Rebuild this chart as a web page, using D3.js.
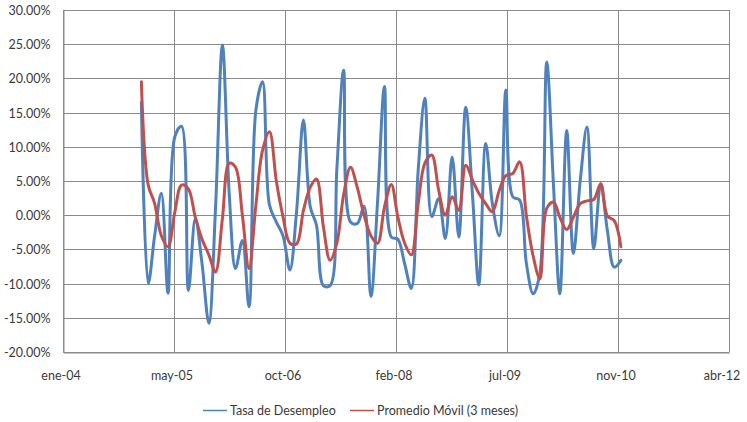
<!DOCTYPE html>
<html>
<head>
<meta charset="utf-8">
<script src="https://cdn.jsdelivr.net/npm/d3@7"></script>
<style>
  html, body { margin: 0; padding: 0; background: #fff; }
  svg { display: block; font-family: Lato, "Open Sans", sans-serif; }
</style>
</head>
<body>
<svg id="chart" width="747" height="422"></svg>
<script>
// Monthly observations, Jan 2005 – Dec 2010
const months = [
  "2005-01","2005-02","2005-03","2005-04","2005-05","2005-06","2005-07","2005-08","2005-09","2005-10","2005-11","2005-12",
  "2006-01","2006-02","2006-03","2006-04","2006-05","2006-06","2006-07","2006-08","2006-09","2006-10","2006-11","2006-12",
  "2007-01","2007-02","2007-03","2007-04","2007-05","2007-06","2007-07","2007-08","2007-09","2007-10","2007-11","2007-12",
  "2008-01","2008-02","2008-03","2008-04","2008-05","2008-06","2008-07","2008-08","2008-09","2008-10","2008-11","2008-12",
  "2009-01","2009-02","2009-03","2009-04","2009-05","2009-06","2009-07","2009-08","2009-09","2009-10","2009-11","2009-12",
  "2010-01","2010-02","2010-03","2010-04","2010-05","2010-06","2010-07","2010-08","2010-09","2010-10","2010-11","2010-12"
];

// Tasa de Desempleo (variación, %)
const tasaDesempleo = [
  16.5, -10.0, -3.2, 3.2, -11.4, 11.5, 13.0, -11.0, -0.5, -7.0, -15.8, 1.0,
  24.9, 3.0, -7.8, -3.7, -13.4, 15.4, 19.5, 1.5, -1.0, -3.0, -8.0, 0.5,
  13.9, 1.2, -1.5, -10.3, -10.3, 7.0, 21.2, -1.0, -1.2, 1.3, -11.9, 2.0,
  18.8, -3.2, -3.5, -7.1, -10.7, 6.6, 17.1, -0.2, 2.4, -3.4, 8.5, -3.2,
  15.8, 2.7, -10.2, 10.5, 1.7, -3.0, 18.3, 2.7, 2.2, -7.0, -11.5, -8.5,
  22.4, 4.0, -11.5, 12.4, -5.6, 5.1, 12.9, -4.9, 4.6, -2.2, -7.6, -6.6
];

// Promedio Móvil (3 meses), %
const promedioMovil = [
  19.5, 4.4, 1.8, -3.0, -4.6, 0.5, 4.4, 3.8, -0.3, -3.5, -5.8, -8.3,
  -0.5, 7.6, 7.0, 0.0, -7.8, 1.5, 9.5, 12.2, 5.0, -0.2, -4.1, -4.2,
  0.7, 4.1, 5.3, -1.7, -6.6, -4.0, 3.0, 7.0, 4.0, 0.0, -3.0, -4.1,
  1.2, 4.5, -0.2, -4.1, -5.8, 1.7, 7.6, 8.8, 3.7, 0.0, 2.7, 0.7,
  7.3, 5.1, 3.2, 1.7, 0.5, 3.6, 5.8, 6.1, 7.8, 0.0, -6.0, -9.3,
  1.0, 1.9, -0.3, -2.1, -0.3, 1.7, 2.1, 2.3, 4.6, -0.1, -0.8, -4.6
];

// Axis ticks
const yTicks = [-20, -15, -10, -5, 0, 5, 10, 15, 20, 25, 30];
const xTickDates = ["2004-01-14","2005-05-28","2006-10-10","2008-02-22","2009-07-06","2010-11-18","2012-04-01"];
const xTickLabels = ["ene-04","may-05","oct-06","feb-08","jul-09","nov-10","abr-12"];

const seriesNames = ["Tasa de Desempleo", "Promedio Móvil (3 meses)"];
const seriesColors = ["#4f81bd", "#c0504d"];

const svg = d3.select("#chart");
const plot = { left: 63, right: 729, top: 10, bottom: 352 };
const fontSize = "12.5px";

const parseDay = d3.utcParse("%Y-%m-%d");
const parseMonth = d3.utcParse("%Y-%m");
const dates = months.map(parseMonth);
const tickDates = xTickDates.map(parseDay);

const x = d3.scaleUtc()
  .domain([tickDates[0], tickDates[tickDates.length - 1]])
  .range([plot.left, plot.right]);

const y = d3.scaleLinear()
  .domain([-20, 30])
  .range([plot.bottom, plot.top]);

const pct = d3.formatLocale({ decimal: ".", thousands: ",", grouping: [3], currency: ["", ""], minus: "-" })
  .format(".2f");

const gridColor = "#8a8a8a";
const textColor = "#3a3a3a";

// Horizontal gridlines
svg.append("g")
  .selectAll("line")
  .data(yTicks)
  .join("line")
  .attr("x1", plot.left).attr("x2", plot.right)
  .attr("y1", d => Math.round(y(d)) + 0.5).attr("y2", d => Math.round(y(d)) + 0.5)
  .attr("stroke", gridColor).attr("stroke-width", 1);

// Vertical gridlines
svg.append("g")
  .selectAll("line")
  .data(tickDates)
  .join("line")
  .attr("x1", d => Math.round(x(d)) + 0.5).attr("x2", d => Math.round(x(d)) + 0.5)
  .attr("y1", plot.top).attr("y2", plot.bottom)
  .attr("stroke", gridColor).attr("stroke-width", 1);

// Y axis
const yAxis = d3.axisLeft(y)
  .tickValues(yTicks)
  .tickSize(0)
  .tickPadding(13)
  .tickFormat(d => pct(d) + "%");
const gy = svg.append("g")
  .attr("transform", `translate(${plot.left + 0.5},0.5)`)
  .call(yAxis);
gy.select(".domain").attr("stroke", gridColor);
gy.selectAll("text")
  .attr("fill", textColor)
  .style("font-size", fontSize)
  .style("font-family", "Lato, 'Open Sans', sans-serif");

// X axis
const xAxis = d3.axisBottom(x)
  .tickValues(tickDates)
  .tickSize(0)
  .tickPadding(19)
  .tickFormat((d, i) => xTickLabels[i]);
const gx = svg.append("g")
  .attr("transform", `translate(0.5,${plot.bottom + 0.5})`)
  .call(xAxis);
gx.select(".domain").attr("stroke", gridColor);
gx.selectAll("text")
  .attr("fill", textColor)
  .attr("dx", (d, i) => i === xTickLabels.length - 1 ? -8 : -3)
  .style("font-size", fontSize)
  .style("font-family", "Lato, 'Open Sans', sans-serif");

// Smoothed series lines
const line = d3.line()
  .x((d, i) => x(dates[i]))
  .y(d => y(d))
  .curve(d3.curveCatmullRom.alpha(0.5));

[tasaDesempleo, promedioMovil].forEach((vals, k) => {
  svg.append("path")
    .datum(vals)
    .attr("d", line)
    .attr("fill", "none")
    .attr("stroke", seriesColors[k])
    .attr("stroke-width", 3)
    .attr("stroke-linejoin", "round")
    .attr("stroke-linecap", "round");
});

// Legend
const legendItems = [
  { x: 203, name: seriesNames[0], color: seriesColors[0] },
  { x: 350, name: seriesNames[1], color: seriesColors[1] }
];
const lg = svg.append("g").attr("transform", "translate(0,410)");
legendItems.forEach(item => {
  lg.append("line")
    .attr("x1", item.x).attr("x2", item.x + 24)
    .attr("y1", 0.5).attr("y2", 0.5)
    .attr("stroke", item.color).attr("stroke-width", 1.5);
  lg.append("text")
    .attr("x", item.x + 27).attr("y", 4.5)
    .attr("fill", textColor)
    .style("font-size", fontSize)
    .text(item.name);
});
</script>
</body>
</html>
